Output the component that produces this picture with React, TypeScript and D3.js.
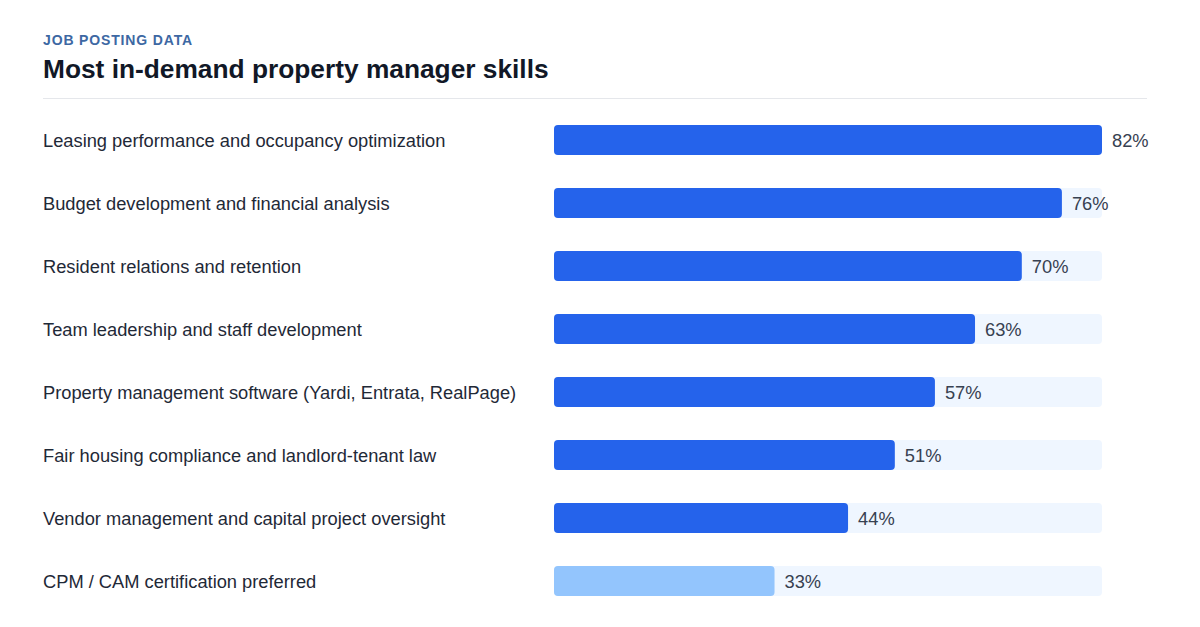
import { useEffect, useRef } from 'react';
import * as d3 from 'd3';

const skills = [
  'Leasing performance and occupancy optimization',
  'Budget development and financial analysis',
  'Resident relations and retention',
  'Team leadership and staff development',
  'Property management software (Yardi, Entrata, RealPage)',
  'Fair housing compliance and landlord-tenant law',
  'Vendor management and capital project oversight',
  'CPM / CAM certification preferred',
];
const shares = [82, 76, 70, 63, 57, 51, 44, 33];
const preferred = [false, false, false, false, false, false, false, true];

const WIDTH = 1200;
const HEIGHT = 627;
const FONT = '"Liberation Sans", Arial, Helvetica, sans-serif';

export default function App() {
  const ref = useRef<SVGSVGElement | null>(null);

  useEffect(() => {
    if (!ref.current) return;
    const svg = d3.select(ref.current);
    svg.selectAll('*').remove();

    const left = 43;
    const right = 1147;
    const barX = 554;
    const barEnd = 1102;

    // header
    svg.append('text')
      .attr('x', left)
      .attr('y', 45)
      .attr('font-family', FONT)
      .attr('font-size', 14)
      .attr('font-weight', 700)
      .attr('letter-spacing', '0.85px')
      .attr('fill', '#3d68a3')
      .text('JOB POSTING DATA');

    svg.append('text')
      .attr('x', left)
      .attr('y', 78)
      .attr('font-family', FONT)
      .attr('font-size', 26.3)
      .attr('font-weight', 700)
      .attr('fill', '#111827')
      .text('Most in-demand property manager skills');

    svg.append('line')
      .attr('x1', left)
      .attr('x2', right)
      .attr('y1', 98.5)
      .attr('y2', 98.5)
      .attr('stroke', '#e5e7eb')
      .attr('stroke-width', 1);

    const x = d3.scaleLinear()
      .domain([0, d3.max(shares)!])
      .range([barX, barEnd]);

    const y = d3.scaleBand()
      .domain(skills)
      .range([108.5, 612.5])
      .paddingInner(0.524)
      .paddingOuter(0.262);

    const rows = svg.selectAll('.row')
      .data(skills)
      .enter()
      .append('g')
      .attr('class', 'row');

    // background track
    rows.append('rect')
      .attr('x', x(0))
      .attr('y', d => y(d)!)
      .attr('width', x.range()[1] - x(0))
      .attr('height', y.bandwidth())
      .attr('rx', 4)
      .attr('fill', '#eff6ff');

    rows.append('rect')
      .attr('x', x(0))
      .attr('y', d => y(d)!)
      .attr('width', (_, i) => x(shares[i]) - x(0))
      .attr('height', y.bandwidth())
      .attr('rx', 4)
      .attr('fill', (_, i) => (preferred[i] ? '#93c5fd' : '#2563eb'));

    rows.append('text')
      .attr('x', left)
      .attr('y', d => y(d)! + y.bandwidth() / 2 + 1)
      .attr('dy', '0.35em')
      .attr('font-family', FONT)
      .attr('font-size', 18.3)
      .attr('fill', '#1f2937')
      .text(d => d);

    rows.append('text')
      .attr('x', (_, i) => x(shares[i]) + 10)
      .attr('y', d => y(d)! + y.bandwidth() / 2 + 1)
      .attr('dy', '0.35em')
      .attr('font-family', FONT)
      .attr('font-size', 18.3)
      .attr('fill', '#374151')
      .text((_, i) => `${shares[i]}%`);
  }, []);

  return (
    <svg
      ref={ref}
      width={WIDTH}
      height={HEIGHT}
      style={{ position: 'absolute', left: 0, top: 0, background: '#ffffff' }}
    />
  );
}
